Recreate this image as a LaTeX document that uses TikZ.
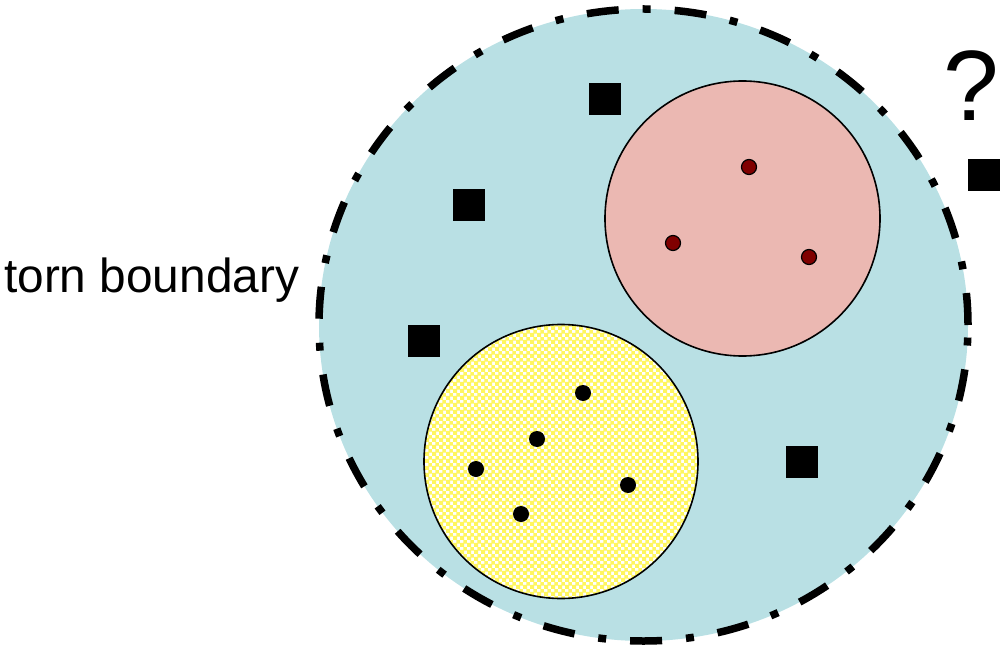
\documentclass[tikz,border=0pt]{standalone}
\usepackage{fontspec}
\setmainfont{Liberation Sans}
\usetikzlibrary{shapes.geometric,patterns.meta}
\definecolor{bgblue}{RGB}{185,224,228}
\definecolor{pinkfill}{RGB}{235,184,178}
\definecolor{dotred}{RGB}{128,0,0}
\definecolor{chkyellow}{RGB}{255,246,95}
\tikzdeclarepattern{name=ychk, type=colored,
  bottom left={(0pt,0pt)}, top right={(7pt,7pt)}, tile size={(7pt,7pt)},
  code={\fill[chkyellow] (0pt,0pt) rectangle (4.1pt,4.1pt);
        \fill[chkyellow] (3.3pt,3.3pt) rectangle (7pt,7pt);}}
\tikzset{
  sq/.style={rectangle, fill=black, minimum size=32bp, inner sep=0},
  bdot/.style={circle, fill=black, minimum size=16bp, inner sep=0},
  rdot/.style={circle, fill=dotred, draw=black, line width=1.2bp, minimum size=15bp, inner sep=0},
  lbl/.style={inner sep=0, anchor=base west}
}
\begin{document}
\begin{tikzpicture}[x=1bp,y=-1bp]
\useasboundingbox (0,0) rectangle (1001,651);
% outer region
\node[ellipse, fill=bgblue, draw=black, line width=7.5bp,
      dash pattern=on 32bp off 24bp on 8bp off 24bp,
      minimum width=649bp, minimum height=632bp, inner sep=0] (outer) at (643.5,325) {};
% pink region
\node[circle, fill=pinkfill, draw=black, line width=1.6bp,
      minimum size=275bp, inner sep=0] (pink) at (742.5,218.5) {};
% yellow region
\node[circle, fill=white, minimum size=274bp, inner sep=0] (ybase) at (561,461.5) {};
\node[circle, pattern=ychk, draw=black, line width=1.6bp,
      minimum size=274bp, inner sep=0] (yellow) at (561,461.5) {};
% pink dots
\node[rdot] (p1) at (749,167) {};
\node[rdot] (p2) at (673,243) {};
\node[rdot] (p3) at (809,257) {};
% yellow dots
\node[bdot] (y1) at (583,393) {};
\node[bdot] (y2) at (537,439) {};
\node[bdot] (y3) at (476,469) {};
\node[bdot] (y4) at (628,485) {};
\node[bdot] (y5) at (521,514) {};
% squares
\node[sq] (s1) at (605,99) {};
\node[sq] (s2) at (469,205) {};
\node[sq] (s3) at (424,341) {};
\node[sq] (s4) at (802,462) {};
\node[sq] (s5) at (983.5,175) {};
% labels
\node[lbl, font=\fontsize{47.8bp}{48bp}\selectfont] (torn) at (4,292) {torn boundary};
\node[lbl, font=\fontsize{100bp}{100bp}\selectfont] (q) at (943,121) {?};
\end{tikzpicture}
\end{document}
